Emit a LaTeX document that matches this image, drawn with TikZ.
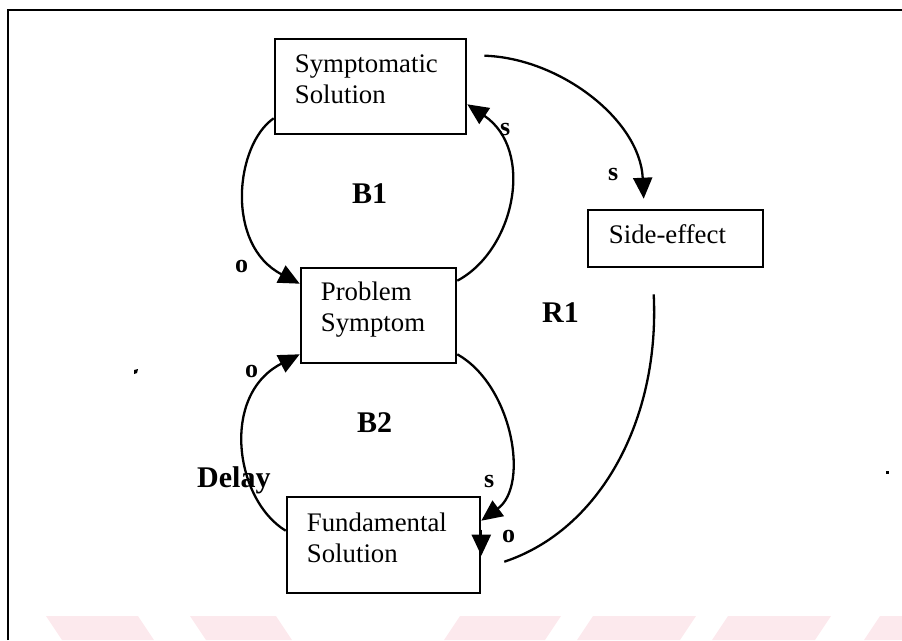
\documentclass[tikz,border=0pt]{standalone}
\usepackage{fontspec}
\setmainfont{Liberation Serif}
\usetikzlibrary{arrows.meta,calc}
\definecolor{wmark}{RGB}{252,233,237}
\begin{document}
\begin{tikzpicture}[x=1pt,y=-1pt,
  box/.style={draw, line width=2.6pt, rectangle, inner sep=0pt},
  boxtext/.style={anchor=base west, inner sep=0pt, font=\fontsize{26.8}{31}\selectfont},
  loopname/.style={anchor=base west, inner sep=0pt, font=\fontsize{30}{34}\selectfont\bfseries},
  polarity/.style={anchor=base west, inner sep=0pt, font=\fontsize{26}{30}\selectfont\bfseries},
  link/.style={line width=2.3pt, -{Triangle[length=21pt,width=19pt]}},
  bare/.style={line width=2.3pt}
]
\useasboundingbox (0,0) rectangle (902,640);

% faint bands along the bottom edge
\fill[wmark] (46,616) -- (138,616) -- (154,640) -- (62,640) -- cycle;
\fill[wmark] (190,616) -- (276,616) -- (292,640) -- (206,640) -- cycle;
\fill[wmark] (460,616) -- (561,616) -- (545,640) -- (444,640) -- cycle;
\fill[wmark] (593,616) -- (696,616) -- (680,640) -- (577,640) -- cycle;
\fill[wmark] (728,616) -- (831,616) -- (815,640) -- (712,640) -- cycle;
\fill[wmark] (880,616) -- (902,616) -- (902,640) -- (864,640) -- cycle;

% frame (top and left edges)
\draw[line width=2.8pt] (8,640) -- (8,10) -- (902,10);

% variables
\node[box, minimum width=191pt, minimum height=95pt] (ss) at (370.5,86.5) {};
\node[box, minimum width=155pt, minimum height=95pt] (ps) at (378.5,315.5) {};
\node[box, minimum width=193pt, minimum height=96pt] (fs) at (383.5,545) {};
\node[box, minimum width=175pt, minimum height=57pt] (se) at (675.5,238.5) {};

\node[boxtext] (ssT) at ($(ss.north west)+(21,35)$) {\begin{tabular}[t]{@{}l@{}}Symptomatic\\Solution\end{tabular}};
\node[boxtext] (psT) at ($(ps.north west)+(21,34)$) {\begin{tabular}[t]{@{}l@{}}Problem\\Symptom\end{tabular}};
\node[boxtext] (fsT) at ($(fs.north west)+(21,36)$) {\begin{tabular}[t]{@{}l@{}}Fundamental\\Solution\end{tabular}};
\node[boxtext] (seT) at ($(se.north west)+(22,35)$) {Side-effect};

% attachment points of the links
\coordinate (b1a) at ($(ss.south west)+(0,-17)$);
\coordinate (b1b) at ($(ps.north west)+(0,17)$);
\coordinate (b1c) at ($(ps.north east)+(0,14)$);
\coordinate (b1d) at ($(ss.south east)+(0,-31)$);
\coordinate (b2a) at ($(ps.south east)+(0,-10)$);
\coordinate (b2b) at ($(fs.north east)+(0,25)$);
\coordinate (b2c) at ($(fs.north west)+(0,35)$);
\coordinate (b2d) at ($(ps.south west)+(0,-10)$);
\coordinate (r1a) at ($(ss.north east)+(17,18)$);
\coordinate (r1b) at ($(se.north west)+(57,-10)$);
\coordinate (r1c) at ($(se.south west)+(67,26)$);
\coordinate (r1d) at ($(fs.north east)+(23,66)$);
\coordinate (r1e) at ($(fs.north east)+(0,34)$);
\coordinate (r1f) at ($(fs.north east)+(0,60)$);

% loop B1
\draw[link] (b1a) .. controls (235,145) and (225,245) .. (b1b);
\draw[link] (b1c) .. controls (515,250) and (535,150) .. (b1d);
% loop B2
\draw[link] (b2a) .. controls (512,385) and (530,485) .. (b2b);
\draw[link] (b2c) .. controls (235,500) and (220,395) .. (b2d);
% loop R1
\draw[link] (r1a) .. controls (560,58) and (640,120) .. (r1b);
\draw[bare] (r1c) .. controls (660,420) and (600,530) .. (r1d);
\draw[link] (r1e) -- (r1f);

% loop names
\node[loopname] (nB1) at (352,203) {B1};
\node[loopname] (nR1) at (542,322) {R1};
\node[loopname] (nB2) at (357,432) {B2};
\node[loopname] (nDelay) at (197,487) {Delay};

% link polarities
\node[polarity] (p1) at (500,135) {s};
\node[polarity] (p2) at (608,180) {s};
\node[polarity] (p3) at (235,272) {o};
\node[polarity] (p4) at (245,377) {o};
\node[polarity] (p5) at (484,487) {s};
\node[polarity] (p6) at (502,542) {o};

% specks
\fill (134,370) -- (138,369) -- (137,373) -- (134,374) -- cycle;
\fill (886,471) rectangle (889,474);
\end{tikzpicture}
\end{document}
